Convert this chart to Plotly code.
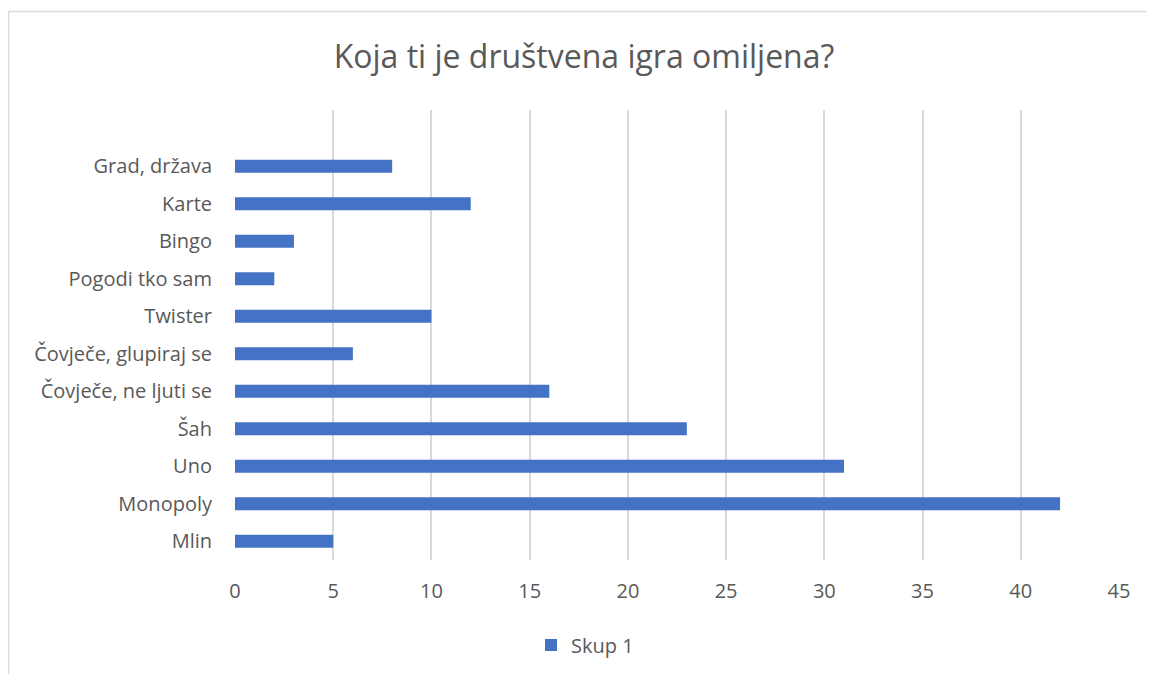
import plotly.graph_objects as go

categories = ["Mlin", "Monopoly", "Uno", "Šah", "Čovječe, ne ljuti se",
              "Čovječe, glupiraj se", "Twister", "Pogodi tko sam", "Bingo",
              "Karte", "Grad, država"]
values = [5, 42, 31, 23, 16, 6, 10, 2, 3, 12, 8]
series_name = "Skup 1"
x_ticks = [0, 5, 10, 15, 20, 25, 30, 35, 40, 45]

BAR = "#4472C4"
GRID = "#D9D9D9"
TEXT = "#595959"
FONT = "Open Sans"

W, H = 1146, 666
L, R, T, B = 227, 35, 102, 114
PW, PH = W - L - R, H - T - B

fig = go.Figure()
fig.add_trace(go.Bar(
    y=list(range(len(categories))), x=values, orientation="h",
    name=series_name, marker=dict(color=BAR, line=dict(width=0)),
    width=0.35, showlegend=True,
))

fig.update_layout(
    width=W, height=H,
    margin=dict(l=L, r=R, t=T, b=B),
    paper_bgcolor="white", plot_bgcolor="white",
    font=dict(family=FONT, color=TEXT, size=20),
    title=dict(text="Koja ti je društvena igra omiljena?",
               x=0.5026, xref="container", xanchor="center",
               y=1 - 49 / H, yref="container", yanchor="middle",
               font=dict(size=32, color=TEXT, family=FONT)),
    xaxis=dict(range=[0, 45], tickvals=x_ticks, showgrid=True,
               gridcolor=GRID, gridwidth=1.5, zeroline=False,
               showline=False, ticks="", ticklabelstandoff=17,
               tickfont=dict(size=20, color=TEXT)),
    yaxis=dict(range=[-0.5, 11.5], tickvals=list(range(len(categories))),
               ticktext=categories, showgrid=False, zeroline=False,
               showline=False, ticks="", ticklabelstandoff=22,
               tickfont=dict(size=20, color=TEXT)),
    legend=dict(orientation="h", x=0.5035, xref="container", xanchor="center",
                y=1 - 637 / H, yref="container", yanchor="middle",
                font=dict(size=20, color=TEXT), itemwidth=30),
    shapes=[
        dict(type="line", xref="paper", yref="paper",
             x0=(0.5 - L) / PW, x1=(W + 5 - L) / PW,
             y0=(T + PH - 3.5) / PH, y1=(T + PH - 3.5) / PH,
             line=dict(color=GRID, width=1.5)),
        dict(type="line", xref="paper", yref="paper",
             x0=(0.5 - L) / PW, x1=(0.5 - L) / PW,
             y0=(T + PH - 3.5) / PH, y1=(T + PH - H - 5) / PH,
             line=dict(color=GRID, width=1.5)),
    ],
)

fig.write_html("out.html")
